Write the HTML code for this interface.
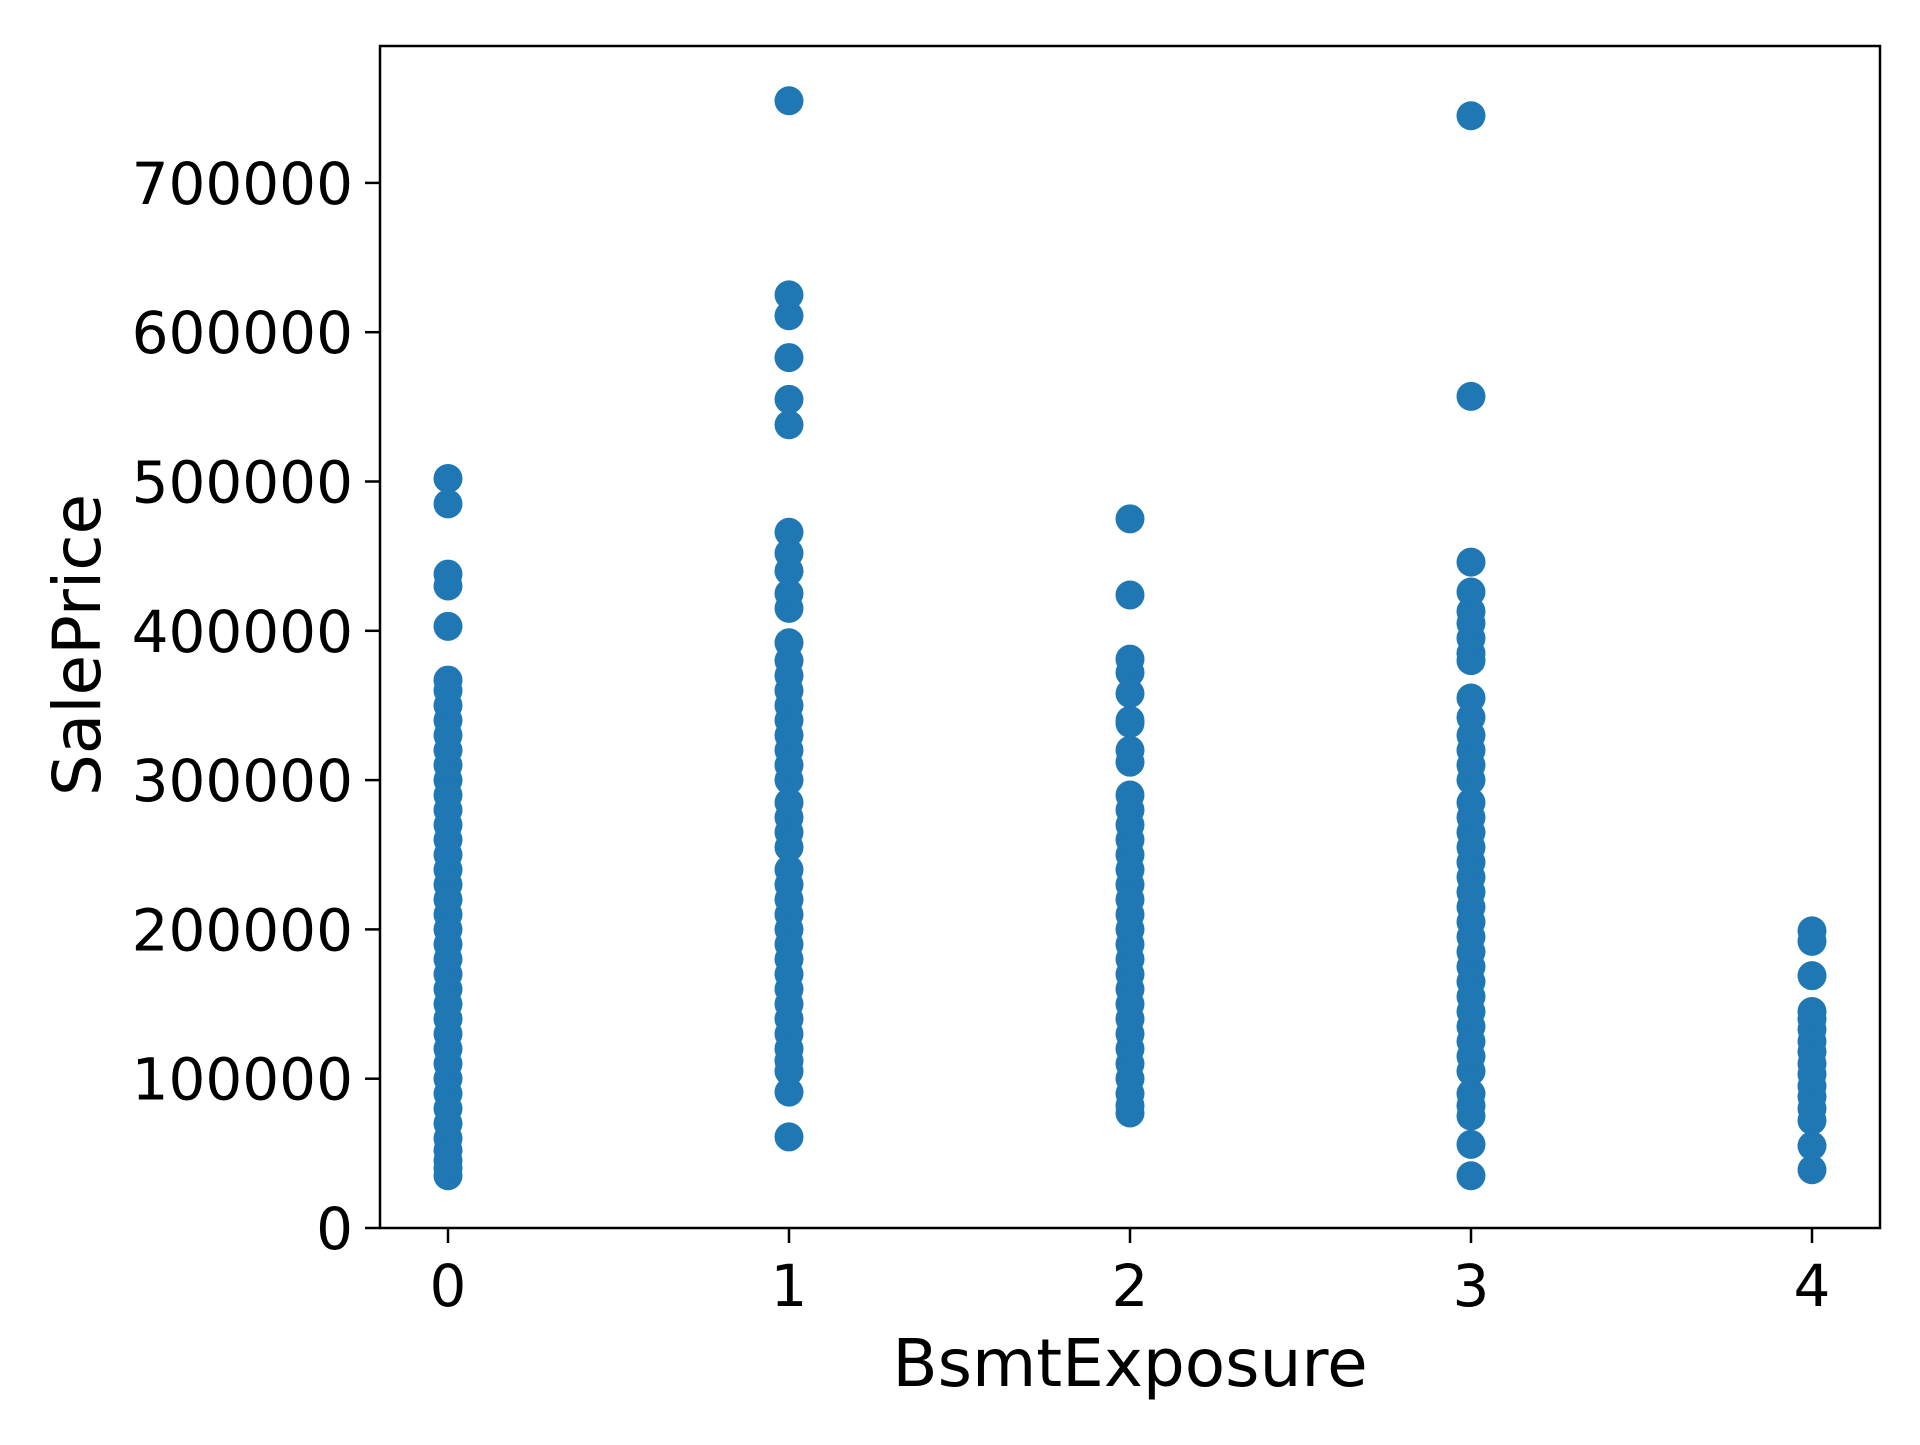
<!DOCTYPE html>
<html><head><meta charset="utf-8"><style>
body{margin:0;background:#fff;}
svg text{font-family:"DejaVu Sans","Liberation Sans",sans-serif;fill:#000;}
</style></head><body>
<svg id="chart" width="1920" height="1440" viewBox="0 0 1920 1440" xmlns="http://www.w3.org/2000/svg">
<rect width="1920" height="1440" fill="#fff"/>
<g id="points"></g>
<rect x="380" y="46" width="1500" height="1182" fill="none" stroke="#000" stroke-width="2.5"/>
<g id="xticks"></g>
<g id="yticks"></g>
<text x="1130" y="1386" font-size="66" text-anchor="middle">BsmtExposure</text>
<text transform="translate(100,645) rotate(-90)" font-size="66" text-anchor="middle">SalePrice</text>
</svg>
<script>
const categories=[0,1,2,3,4];
const xTicks=["0","1","2","3","4"];
const yTickValues=[0,100000,200000,300000,400000,500000,600000,700000];
const cat0=[35000,40000,45000,52000,60000,70000,80000,90000,100000,110000,120000,130000,140000,150000,160000,170000,180000,190000,200000,210000,220000,230000,240000,250000,260000,270000,280000,290000,300000,310000,320000,330000,340000,350000,360000,367000,403000,430000,438000,485000,502000];
const cat1=[61000,91000,105000,112000,120000,130000,140000,150000,160000,170000,180000,190000,200000,210000,220000,230000,240000,255000,265000,275000,285000,300000,310000,320000,330000,340000,350000,360000,370000,380000,392000,415000,425000,440000,452000,466000,538000,555000,583000,611000,625000,755000];
const cat2=[77000,82000,90000,100000,110000,120000,130000,140000,150000,160000,170000,180000,190000,200000,210000,220000,230000,240000,250000,260000,270000,280000,290000,312000,320000,338000,340000,358000,372000,381000,424000,475000];
const cat3=[35000,56000,75000,82000,90000,105000,115000,125000,135000,145000,155000,165000,175000,185000,195000,205000,215000,225000,235000,245000,255000,265000,275000,285000,300000,310000,320000,330000,342000,355000,380000,385000,395000,405000,413000,426000,446000,557000,745000];
const cat4=[39000,55000,72000,80000,88000,95000,103000,110000,118000,125000,133000,140000,145000,169000,192000,199000];
const series=[cat0,cat1,cat2,cat3,cat4];
const X0=448,XS=341,Y0=1228,YS=149.3/100000;
const xPos=v=>X0+v*XS, yPos=v=>Y0-v*YS;
const NS="http://www.w3.org/2000/svg";
const pg=document.getElementById('points');
series.forEach((vals,ci)=>{vals.forEach(v=>{
 const c=document.createElementNS(NS,'circle');
 c.setAttribute('cx',xPos(categories[ci]));c.setAttribute('cy',yPos(v));c.setAttribute('r',14.5);c.setAttribute('fill','#1f77b4');
 
 
 pg.appendChild(c);});});
const xg=document.getElementById('xticks');
categories.forEach((c,i)=>{
 const l=document.createElementNS(NS,'line');
 l.setAttribute('x1',xPos(c));l.setAttribute('x2',xPos(c));l.setAttribute('y1',1228);l.setAttribute('y2',1243);l.setAttribute('stroke','#000');l.setAttribute('stroke-width',2.5);
 
 
 xg.appendChild(l);
 const t=document.createElementNS(NS,'text');
 t.setAttribute('x',xPos(c));t.setAttribute('y',1306);t.setAttribute('font-size','58');t.setAttribute('text-anchor','middle');t.textContent=xTicks[i];
 
 
 xg.appendChild(t);});
const yg=document.getElementById('yticks');
yTickValues.forEach(v=>{
 const l=document.createElementNS(NS,'line');
 l.setAttribute('x1',365);l.setAttribute('x2',380);l.setAttribute('y1',yPos(v));l.setAttribute('y2',yPos(v));l.setAttribute('stroke','#000');l.setAttribute('stroke-width',2.5);
 
 
 yg.appendChild(l);
 const t=document.createElementNS(NS,'text');
 t.setAttribute('x',353);t.setAttribute('y',yPos(v)+21);t.setAttribute('font-size','58');t.setAttribute('text-anchor','end');t.textContent=String(v);
 
 
 yg.appendChild(t);});
</script>
</body></html>
